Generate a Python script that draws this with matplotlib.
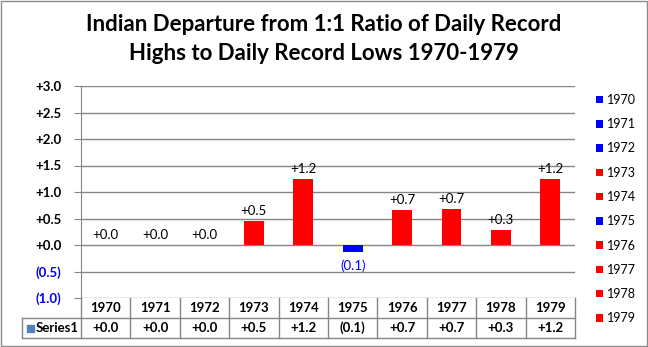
import matplotlib
matplotlib.use("Agg")
import matplotlib.pyplot as plt
from matplotlib.patches import Patch, Rectangle
from matplotlib.lines import Line2D
import matplotlib.transforms as mtransforms

plt.rcParams['font.family'] = ['Lato', 'DejaVu Sans']

years = ['1970', '1971', '1972', '1973', '1974', '1975', '1976', '1977', '1978', '1979']
values = [0.0, 0.0, 0.0, 0.45, 1.25, -0.14, 0.66, 0.68, 0.28, 1.25]
yticks = [-1.0, -0.5, 0.0, 0.5, 1.0, 1.5, 2.0, 2.5, 3.0]
title = "Indian Departure from 1:1 Ratio of Daily Record\nHighs to Daily Record Lows 1970-1979"
series_name = "Series1"

RED = '#FF0000'
BLUE = '#0000FF'
GRID = '#868686'

def fmt(v):
    return f"+{v:.1f}" if v >= 0 else f"({abs(v):.1f})"

colors = [RED if v > 0 else BLUE for v in values]

fig = plt.figure(figsize=(6.48, 3.47), dpi=100)
fig.patches.append(Rectangle((0.0015, 0.003), 0.997, 0.994, transform=fig.transFigure,
                             fill=False, edgecolor='#8c8c8c', linewidth=1.0))
W, H = 648, 347
L, R, T, B = 81, 575, 86, 298
ax = fig.add_axes([L / W, 1 - B / H, (R - L) / W, (B - T) / H])

x = list(range(len(years)))
ax.bar(x, values, width=0.4, color=colors, zorder=3)
ax.set_xlim(-0.5, len(years) - 0.5)
ax.set_ylim(-1.0, 3.0)
ax.set_yticks(yticks)
ax.set_yticklabels([fmt(v) for v in yticks], fontsize=9.5, fontweight='bold')
for lab, v in zip(ax.get_yticklabels(), yticks):
    lab.set_color(BLUE if v < 0 else 'black')
ax.tick_params(axis='y', length=5, color=GRID, pad=9)
ax.set_xticks([])
ax.yaxis.grid(True, color=GRID, linewidth=1.0, zorder=0)
for s in ['top', 'right', 'bottom']:
    ax.spines[s].set_visible(False)
ax.spines['left'].set_color(GRID)

for xi, v in zip(x, values):
    if v >= 0:
        ax.annotate(fmt(v), (xi, v), xytext=(0, 3), textcoords='offset points',
                    ha='center', va='bottom', fontsize=9.5, color='black')
    else:
        ax.annotate(fmt(v), (xi, v), xytext=(0, -5), textcoords='offset points',
                    ha='center', va='top', fontsize=9.5, color=BLUE)

# data table under the axis
trans = mtransforms.blended_transform_factory(ax.transData, ax.transAxes)
rh = 20 / (B - T)
n = len(years)
kw = dict(transform=ax.transAxes, color=GRID, linewidth=1.0, clip_on=False)
ax.add_line(Line2D([0, 1], [-rh, -rh], **kw))
ax.add_line(Line2D([-59 / (R - L), 1], [-2 * rh, -2 * rh], **kw))
ax.add_line(Line2D([-59 / (R - L), 0], [-rh, -rh], **kw))
ax.add_line(Line2D([-59 / (R - L), -59 / (R - L)], [-rh, -2 * rh], **kw))
ax.add_line(Line2D([0, 0], [0, -2 * rh], **kw))
for k in range(1, n + 1):
    ax.add_line(Line2D([k - 0.5, k - 0.5], [0, -2 * rh], transform=trans, color=GRID,
                       linewidth=1.0, clip_on=False))
for xi, yr, v in zip(x, years, values):
    ax.text(xi, -0.5 * rh, yr, transform=trans, ha='center', va='center',
            fontsize=9.5, fontweight='bold')
    ax.text(xi, -1.5 * rh, fmt(v), transform=trans, ha='center', va='center',
            fontsize=9.5, fontweight='bold')
ax.add_patch(Rectangle((-54 / (R - L), -1.5 * rh - 3.5 / (B - T)), 7 / (R - L), 7 / (B - T),
                       transform=ax.transAxes, color='#4F81BD', clip_on=False))
ax.text(-45 / (R - L), -1.5 * rh, series_name, transform=ax.transAxes, ha='left',
        va='center', fontsize=9.5, fontweight='bold')

# legend
handles = [Patch(facecolor=c, edgecolor='none') for c in colors]
fig.legend(handles, years, loc='upper left', bbox_to_anchor=(596 / W, 1 - 94 / H),
           frameon=False, fontsize=9, handlelength=0.55, handleheight=0.55,
           handletextpad=0.35, labelspacing=0.98, borderpad=0, borderaxespad=0)

fig.text(0.5, 1 - 39 / H, title, ha='center', va='center', fontsize=16,
         fontweight='bold', linespacing=1.45)

fig.savefig('out.png', dpi=100)
